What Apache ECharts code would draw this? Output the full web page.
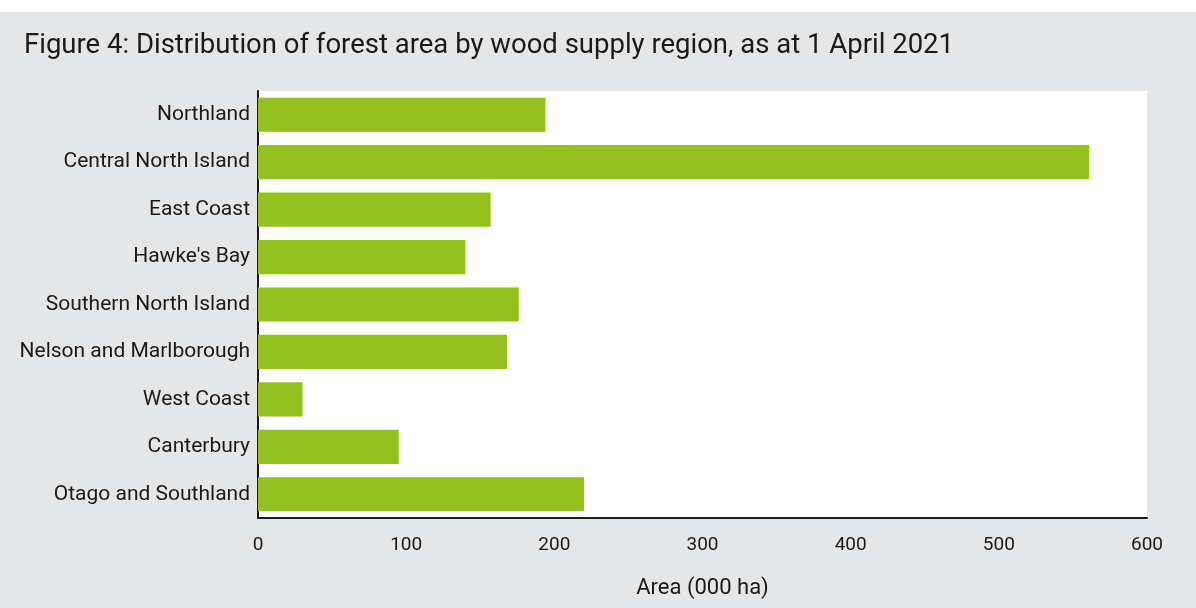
<!DOCTYPE html>
<html>
<head>
<meta charset="utf-8">
<script src="https://cdn.jsdelivr.net/npm/echarts@6/dist/echarts.min.js"></script>
<style>
  html, body { margin: 0; padding: 0; background: #fff; }
  #chart { position: absolute; left: 0; top: 12px; width: 1196px; height: 596px; }
</style>
</head>
<body>
<div id="chart"></div>
<script>
// wood supply regions, top to bottom
const regions = ['Northland', 'Central North Island', 'East Coast', "Hawke's Bay", 'Southern North Island',
  'Nelson and Marlborough', 'West Coast', 'Canterbury', 'Otago and Southland']
// forest area, 000 ha
const area = [194, 561, 157, 140, 176, 168, 30, 95, 220]
const xTicks = [0, 100, 200, 300, 400, 500, 600]

const chart = echarts.init(document.getElementById('chart'))
chart.setOption({
  backgroundColor: '#e5e6e8',
  textStyle: { fontFamily: 'Roboto' },
  title: {
    text: 'Figure 4: Distribution of forest area by wood supply region, as at 1 April 2021',
    left: 19,
    top: 15,
    textStyle: { fontSize: 27.5, fontWeight: 'normal', color: '#1a1a1a', fontFamily: 'Roboto' }
  },
  grid: {
    left: 258,
    right: 49,
    top: 79,
    bottom: 90,
    show: true,
    backgroundColor: '#fff',
    borderWidth: 0
  },
  xAxis: {
    type: 'value',
    min: xTicks[0],
    max: xTicks[xTicks.length - 1],
    interval: 100,
    name: 'Area (000 ha)',
    nameLocation: 'middle',
    nameGap: 59,
    nameTextStyle: { fontSize: 22, color: '#1a1a1a' },
    axisLine: { show: true, lineStyle: { color: '#1a1a1a', width: 2 } },
    axisTick: { show: false },
    splitLine: { show: false },
    axisLabel: { fontSize: 19, color: '#1a1a1a', margin: 18 }
  },
  yAxis: {
    type: 'category',
    inverse: true,
    data: regions,
    axisLine: { show: true, lineStyle: { color: '#1a1a1a', width: 2 } },
    axisTick: { show: false },
    axisLabel: { fontSize: 21, color: '#1a1a1a', margin: 8, padding: [5, 0, 0, 0] }
  },
  series: [
    {
      type: 'bar',
      data: area,
      barCategoryGap: '28%',
      itemStyle: { color: '#95c11f' },
      silent: true
    }
  ]
})
</script>
</body>
</html>
